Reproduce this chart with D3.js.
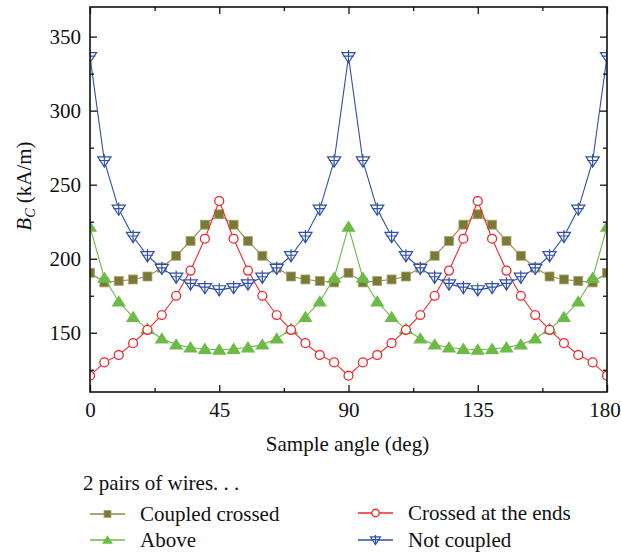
<!DOCTYPE html>
<html><head><meta charset="utf-8">
<script src="https://cdn.jsdelivr.net/npm/d3@7"></script>
<style>body{margin:0;background:#fff}svg{display:block}text{font-family:"Liberation Serif","Times New Roman",serif;fill:#111}</style>
</head><body><svg id="c" width="621" height="554"></svg>
<script>
const angles = [0,5,10,15,20,25,30,35,40,45,50,55,60,65,70,75,80,85,90,95,100,105,110,115,120,125,130,135,140,145,150,155,160,165,170,175,180];
const coupledCrossed = [190.5,184,185,186,188,194,202,212,223,230,223,212,202,194,188,186,185,184,190.5,184,185,186,188,194,202,212,223,230,223,212,202,194,188,186,185,184,190.5];
const above = [221.5,187,171,160.5,152.5,146,142,140,139,138.5,139,140,142,146,152.5,160.5,171,187,221.5,187,171,160.5,152.5,146,142,140,139,138.5,139,140,142,146,152.5,160.5,171,187,221.5];
const crossedEnds = [121,130,135,143,152,162,175,192,213.5,239,213.5,192,175,162,152,143,135,130,121,130,135,143,152,162,175,192,213.5,239,213.5,192,175,162,152,143,135,130,121];
const notCoupled = [336.5,266,233.5,215,202,193.5,187.5,183,180.5,179,180.5,183,187.5,193.5,202,215,233.5,266,336.5,266,233.5,215,202,193.5,187.5,183,180.5,179,180.5,183,187.5,193.5,202,215,233.5,266,336.5];
const xTicks = [0,45,90,135,180];
const xMinor = [22.5,67.5,112.5,157.5];
const yTicks = [150,200,250,300,350];
const yMinor = [125,175,225,275,325];
const seriesNames = ["Coupled crossed","Above","Crossed at the ends","Not coupled"];
const legendTitle = "2 pairs of wires. . .";

(function(){
const svg = d3.select("#c");
const L=90, R=607, T=7, B=392;
const x = d3.scaleLinear().domain([0,180]).range([L,R]);
const y = d3.scaleLinear().domain([110,370]).range([B,T]);

const styles = [
  {line:"#8a894c", fill:"#7a7936", stroke:"#a9a774", type:"square"},
  {line:"#6cbb47", fill:"#6cbb47", stroke:"#6cbb47", type:"tri"},
  {line:"#ee2a2e", fill:"#fff", stroke:"#ee2a2e", type:"circle"},
  {line:"#2f50a6", fill:"#fff", stroke:"#2f50a6", type:"dtri"}
];
const data = [coupledCrossed, above, crossedEnds, notCoupled];

svg.append("clipPath").attr("id","clip").append("rect").attr("x",L).attr("y",T).attr("width",R-L).attr("height",B-T);

function marker(g, type, st, s){
  if(type==="square"){
    g.append("rect").attr("x",-s/2).attr("y",-s/2).attr("width",s).attr("height",s)
      .attr("fill",st.fill).attr("stroke",st.stroke).attr("stroke-width",0.8);
  } else if(type==="tri"){
    const h=s*0.9;
    g.append("path").attr("d",`M0,${-h*0.6}L${s*0.6},${h*0.45}L${-s*0.6},${h*0.45}Z`).attr("fill",st.fill);
  } else if(type==="circle"){
    g.append("circle").attr("r",s*0.47).attr("fill","#fff").attr("stroke",st.stroke).attr("stroke-width",1.3);
  } else {
    const w=s*0.55, h=s*0.85;
    g.append("path").attr("d",`M${-w},${-h*0.4}L${w},${-h*0.4}L0,${h*0.6}Z`).attr("fill","#fff").attr("stroke",st.stroke).attr("stroke-width",1.2);
    g.append("path").attr("d",`M0,${-h*0.65}V${h*0.6}M${-w*0.8},${-h*0.05}H${w*0.8}`).attr("stroke",st.stroke).attr("stroke-width",1.2);
  }
}

const plot = svg.append("g").attr("clip-path","url(#clip)");
const sizes=[9,12,9.5,12];
data.forEach((vals,i)=>{
  const st=styles[i];
  const pts = angles.map((a,j)=>[a,vals[j]]);
  plot.append("path").datum(pts).attr("fill","none").attr("stroke",st.line).attr("stroke-width",1.1)
    .attr("d", d3.line().x(d=>x(d[0])).y(d=>y(d[1])));
  pts.forEach(p=>{
    const g=plot.append("g").attr("transform",`translate(${x(p[0])},${y(p[1])})`);
    marker(g, st.type, st, sizes[i]);
  });
});

const ax = svg.append("g");
const xb = ax.append("g").attr("transform",`translate(0,${B})`).call(d3.axisBottom(x).tickValues(xTicks).tickSize(-7).tickPadding(10).tickFormat(d3.format("d")));
ax.append("g").attr("transform",`translate(0,${B})`).call(d3.axisBottom(x).tickValues(xMinor).tickSize(-4).tickFormat(""));
ax.append("g").attr("transform",`translate(0,${T})`).call(d3.axisTop(x).tickValues(xTicks).tickSize(-7).tickFormat(""));
ax.append("g").attr("transform",`translate(0,${T})`).call(d3.axisTop(x).tickValues(xMinor).tickSize(-4).tickFormat(""));
ax.append("g").attr("transform",`translate(${L},0)`).call(d3.axisLeft(y).tickValues(yTicks).tickSize(-7).tickPadding(9).tickFormat(d3.format("d")));
ax.append("g").attr("transform",`translate(${L},0)`).call(d3.axisLeft(y).tickValues(yMinor).tickSize(-4).tickFormat(""));
ax.append("g").attr("transform",`translate(${R},0)`).call(d3.axisRight(y).tickValues(yTicks).tickSize(-7).tickFormat(""));
ax.append("g").attr("transform",`translate(${R},0)`).call(d3.axisRight(y).tickValues(yMinor).tickSize(-4).tickFormat(""));
ax.selectAll(".domain").remove();
ax.selectAll(".tick line").attr("stroke","#111").attr("stroke-width",1.3);
ax.selectAll(".tick text").attr("font-family","Liberation Serif").attr("font-size",21).attr("fill","#111");
xb.selectAll(".tick text").filter(d=>d===180).attr("dx",-2.5);
svg.append("rect").attr("x",L).attr("y",T).attr("width",R-L).attr("height",B-T).attr("fill","none").attr("stroke","#111").attr("stroke-width",1.6);

svg.append("text").attr("x",(L+R)/2-1).attr("y",451).attr("text-anchor","middle").attr("font-size",21).text("Sample angle (deg)");
const yl = svg.append("text").attr("transform","translate(31,186) rotate(-90)").attr("text-anchor","middle").attr("font-size",21);
yl.append("tspan").attr("font-style","italic").text("B");
yl.append("tspan").attr("font-style","italic").attr("font-size",14).attr("dy",4).text("C");
yl.append("tspan").attr("dy",-4).text(" (kA/m)");

svg.append("text").attr("x",83).attr("y",490).attr("font-size",21).text(legendTitle);
const legPos = [[90,514],[90,540],[358,513],[358,540]];
const legSizes=[7,9,8,9];
seriesNames.forEach((n,i)=>{
  const [lx,ly]=legPos[i], st=styles[i];
  svg.append("line").attr("x1",lx).attr("x2",lx+35).attr("y1",ly).attr("y2",ly).attr("stroke",st.line).attr("stroke-width",1.3);
  const g=svg.append("g").attr("transform",`translate(${lx+17.5},${ly})`);
  marker(g, st.type, st, legSizes[i]);
  svg.append("text").attr("x",lx+50).attr("y",ly+7).attr("font-size",21).text(n);
});
})();
</script></body></html>
